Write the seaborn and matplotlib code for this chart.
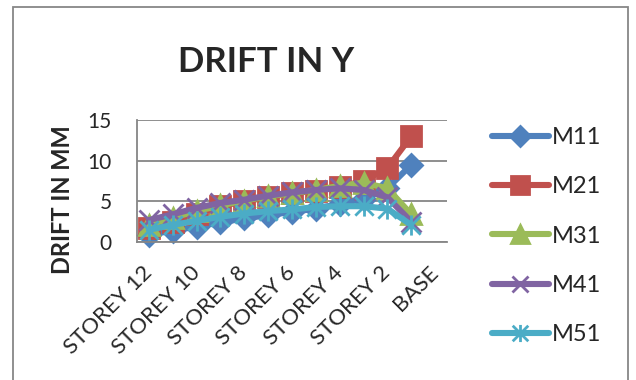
import numpy as np
import matplotlib
matplotlib.use("Agg")
import matplotlib.pyplot as plt
import matplotlib.transforms as mtransforms
from matplotlib.path import Path
from matplotlib.patches import Rectangle
import seaborn as sns

# Floor labels along the x axis (top storey first)
storeys = ["STOREY 12", "STOREY 11", "STOREY 10", "STOREY 9", "STOREY 8",
           "STOREY 7", "STOREY 6", "STOREY 5", "STOREY 4", "STOREY 3",
           "STOREY 2", "STOREY 1", "BASE"]

# Storey drift in Y direction (mm) for each model, STOREY 12 .. STOREY 1
m11 = [0.9, 1.4, 1.9, 2.4, 2.9, 3.3, 3.7, 4.1, 4.7, 5.3, 6.6, 9.5]
m21 = [1.7, 2.5, 3.5, 4.4, 5.0, 5.5, 6.0, 6.3, 6.8, 7.5, 9.1, 13.0]
m31 = [2.1, 3.0, 3.8, 4.5, 5.1, 5.6, 6.0, 6.4, 6.9, 7.3, 6.6, 3.4]
m41 = [2.7, 3.4, 4.2, 4.8, 5.2, 5.7, 6.1, 6.4, 6.6, 6.4, 5.5, 2.5]
m51 = [1.5, 2.1, 2.6, 3.1, 3.5, 3.8, 4.0, 4.3, 4.4, 4.4, 4.1, 2.1]

series_names = ["M11", "M21", "M31", "M41", "M51"]
series_values = [m11, m21, m31, m41, m51]
colors = ["#4F81BD", "#C0504D", "#9BBB59", "#8064A2", "#4BACC6"]

y_ticks = [0, 5, 10, 15]

# Asterisk marker: an X with a vertical stroke
asterisk = Path(
    [(-0.5, -0.5), (0.5, 0.5), (-0.5, 0.5), (0.5, -0.5), (0, -0.55), (0, 0.55)],
    [Path.MOVETO, Path.LINETO] * 3,
)
markers = ["D", "s", "^", "x", asterisk]
marker_sizes = [11.5, 14.5, 15, 14, 14.5]

sns.set_theme(style="white")
plt.rcParams["font.family"] = ["Lato", "DejaVu Sans"]

W, H = 636, 380
fig = plt.figure(figsize=(W / 100, H / 100), dpi=100)
fig.patch.set_facecolor("white")

# Plot area in pixel units converted to figure fractions
px_left, px_right, px_top, px_bottom = 137, 447, 120, 242
ax = fig.add_axes([px_left / W, 1 - px_bottom / H,
                   (px_right - px_left) / W, (px_bottom - px_top) / H])

x_pos = np.arange(len(storeys))
for name, vals, c, mk, ms in zip(series_names, series_values, colors, markers, marker_sizes):
    sns.lineplot(x=x_pos[:len(vals)], y=vals, ax=ax, color=c, lw=4.4,
                 marker=mk, markersize=ms, mec=c, mfc=c, mew=2.0,
                 label=name, clip_on=False, solid_capstyle="round",
                 solid_joinstyle="round")

ax.set_xlim(-0.5, len(storeys) - 0.5)
ax.set_ylim(0, 15)
ax.set_yticks(y_ticks)
ax.set_yticklabels([str(t) for t in y_ticks], fontsize=15)
ax.set_xticks(x_pos[::2])
ax.set_xticklabels(storeys[::2], fontsize=16)
shift = mtransforms.ScaledTranslation(9 / 100, 0, fig.dpi_scale_trans)
for lab in ax.get_xticklabels():
    lab.set_rotation(45)
    lab.set_ha("right")
    lab.set_va("center")
    lab.set_rotation_mode("anchor")
    lab.set_transform(lab.get_transform() + shift)
ax.tick_params(axis="y", length=0, pad=18)
ax.tick_params(axis="x", length=0, pad=20)
ax.set_xlabel("")
ax.set_ylabel("")

ax.grid(axis="y", color="#868686", lw=1.3)
ax.grid(axis="x", visible=False)
for side in ["top", "right"]:
    ax.spines[side].set_visible(False)
for side in ["left", "bottom"]:
    ax.spines[side].set_color("#868686")
    ax.spines[side].set_linewidth(1.3)

ax.get_legend().remove()
handles, labels = ax.get_legend_handles_labels()
fig.legend(handles, labels, loc="center left",
           bbox_to_anchor=(492 / W, 1 - 236 / H), frameon=False,
           fontsize=17, handlelength=2.4, handletextpad=0.15,
           labelspacing=1.2, borderpad=0, borderaxespad=0, markerscale=0.85)

fig.text(266 / W, 1 - 72 / H, "DRIFT IN Y", ha="center", va="baseline",
         fontsize=25, fontweight="bold")
fig.text(63 / W, 1 - 200 / H, "DRIFT IN MM", ha="center", va="center",
         rotation=90, fontsize=17, fontweight="bold")

# Chart frame
fig.add_artist(Rectangle((12.5 / W, -0.05), (628 - 12.5) / W, 1.05 - 7 / H,
                         transform=fig.transFigure, fill=False,
                         ec="#878787", lw=1.3, clip_on=False))

fig.savefig("out.png", dpi=100)
